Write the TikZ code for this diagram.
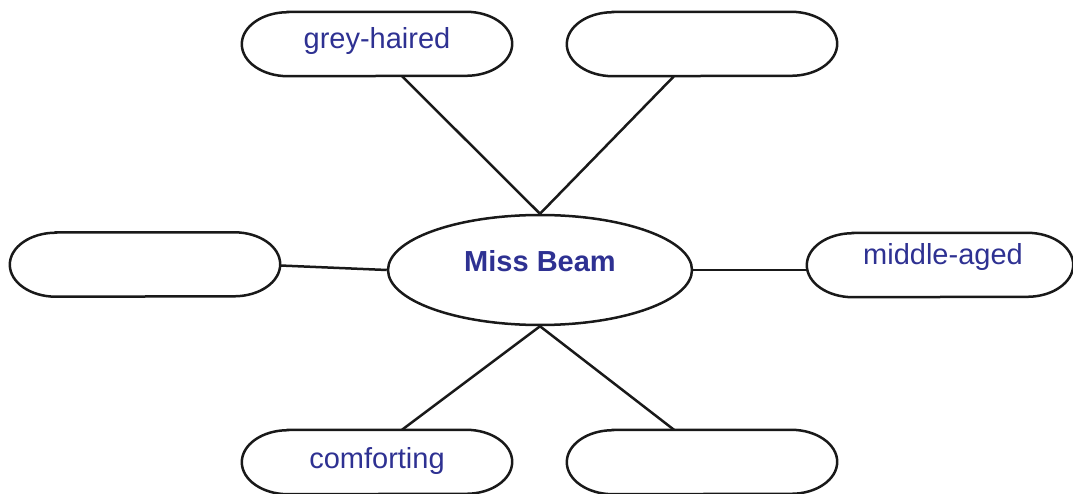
\documentclass[tikz,border=0pt]{standalone}
\usepackage{fontspec}
\setmainfont{Liberation Sans}
\usetikzlibrary{shapes.geometric}
\definecolor{txtblue}{RGB}{46,49,146}
\tikzset{
  line/.style={line width=2.5pt, draw=black!90},
  boxnode/.style={rectangle, draw=none, minimum width=270pt, minimum height=64pt, inner sep=0pt},
  mid/.style={ellipse, line, minimum width=304pt, minimum height=110pt, inner sep=0pt},
  lbl/.style={text=txtblue, font=\fontsize{29}{34}\selectfont, inner sep=0pt},
}
\newcommand\capsule[1]{\draw[line] ([xshift=46pt]#1.north west) -- ([xshift=-46pt]#1.north east)
  arc[start angle=90,end angle=-90,x radius=46pt,y radius=32pt]
  -- ([xshift=46pt]#1.south west)
  arc[start angle=270,end angle=90,x radius=46pt,y radius=32pt] -- cycle;}
\begin{document}
\begin{tikzpicture}[x=1pt,y=-1pt]
\useasboundingbox (0,0) rectangle (1073,494);
\node[mid, label={[lbl,font=\fontsize{29}{34}\selectfont\bfseries,yshift=9pt]center:Miss Beam}] (c) at (540,270) {};
\node[boxnode, label={[lbl,yshift=3pt]center:grey-haired}] (tl) at (377,44) {};
\node[boxnode] (tr) at (702,44) {};
\node[boxnode] (l) at (145,264.5) {};
\node[boxnode, minimum width=266pt, label={[lbl,xshift=3pt,yshift=8pt]center:middle-aged}] (r) at (940,265) {};
\node[boxnode, label={[lbl,yshift=1pt]center:comforting}] (bl) at (377,462) {};
\node[boxnode] (br) at (702,462) {};
\capsule{tl}\capsule{tr}\capsule{l}\capsule{r}\capsule{bl}\capsule{br}
\draw[line] ([xshift=25pt]tl.south) -- (c.north);
\draw[line] ([xshift=-28pt]tr.south) -- (c.north);
\draw[line] ([yshift=-1pt]l.east) -- (c.west);
\draw[line] (c.east) -- (c.east -| r.west);
\draw[line] (c.south) -- ([xshift=25pt]bl.north);
\draw[line] (c.south) -- ([xshift=-28pt]br.north);
\end{tikzpicture}
\end{document}
